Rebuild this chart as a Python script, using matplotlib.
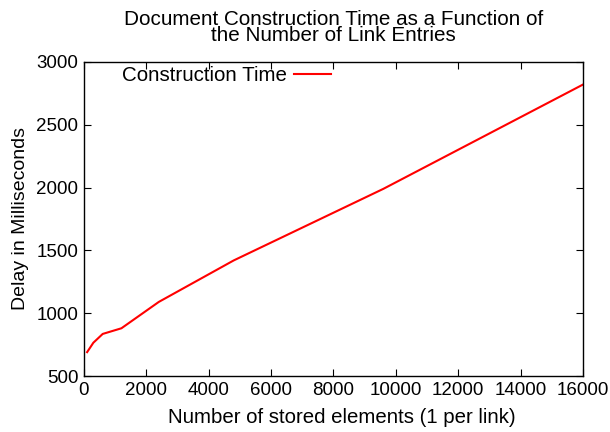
import matplotlib
matplotlib.use("Agg")
import matplotlib.pyplot as plt

plt.rcParams["font.family"] = ["Liberation Sans", "DejaVu Sans"]

# data
elements = [100, 300, 600, 1200, 2400, 4800, 9600, 16000]
delay_ms = [690, 765, 835, 880, 1090, 1420, 1990, 2820]

x_ticks = list(range(0, 16001, 2000))
y_ticks = list(range(500, 3001, 500))

fig = plt.figure(figsize=(6.1, 4.32), dpi=100)
ax = fig.add_axes([0.1377, 0.1296, 0.818, 0.727])

ax.plot(elements, delay_ms, color="red", lw=1.5, label="Construction Time")

ax.set_xlim(0, 16000)
ax.set_ylim(500, 3000)
ax.set_xticks(x_ticks)
ax.set_yticks(y_ticks)
ax.tick_params(direction="in", top=True, right=True, length=5,
               labelsize=13.5, width=0.8, pad=4)
for s in ax.spines.values():
    s.set_linewidth(1.0)

ax.set_xlabel("Number of stored elements (1 per link)", fontsize=14.7, labelpad=7)
ax.xaxis.label.set_x(0.517)
ax.set_ylabel("Delay in Milliseconds", fontsize=14, labelpad=5)
fig.suptitle("Document Construction Time as a Function of\nthe Number of Link Entries",
             x=0.547, y=0.978, fontsize=14.9, linespacing=0.85)

leg = ax.legend(loc="upper left", frameon=False, fontsize=14.8, markerfirst=False,
                handlelength=1.8, handletextpad=0.35, borderaxespad=0.0,
                bbox_to_anchor=(0.06, 1.013))

fig.savefig("out.png", dpi=100)
